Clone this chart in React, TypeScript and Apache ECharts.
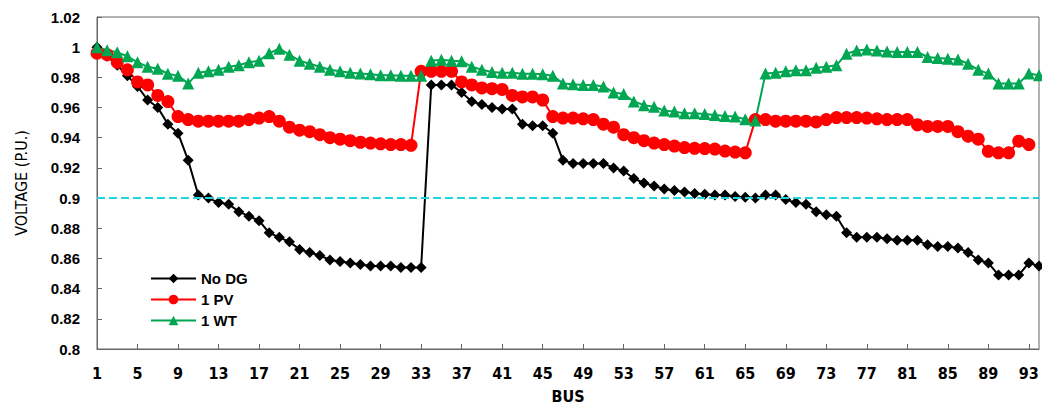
import React, { useEffect, useRef } from "react";
import * as echarts from "echarts";

const buses: string[] = Array.from({ length: 94 }, (_, i) => String(i + 1));

const noDG: number[] = [
  1.0, 0.994, 0.988, 0.981, 0.974, 0.965, 0.96, 0.949, 0.943, 0.925,
  0.902, 0.9, 0.897, 0.896, 0.891, 0.888, 0.885, 0.877, 0.874, 0.871,
  0.866, 0.864, 0.862, 0.859, 0.858, 0.857, 0.856, 0.855, 0.855, 0.855,
  0.854, 0.854, 0.854, 0.975, 0.975, 0.975, 0.97, 0.964, 0.962, 0.96,
  0.959, 0.959, 0.949, 0.948, 0.948, 0.943, 0.925, 0.923, 0.923, 0.923,
  0.923, 0.92, 0.918, 0.913, 0.91, 0.908, 0.906, 0.905, 0.904, 0.903,
  0.9025, 0.902, 0.902, 0.901, 0.9005, 0.9, 0.902, 0.902, 0.899, 0.897,
  0.896, 0.891, 0.889, 0.888, 0.877, 0.874, 0.874, 0.874, 0.873, 0.872,
  0.872, 0.872, 0.869, 0.868, 0.868, 0.867, 0.864, 0.859, 0.857, 0.849,
  0.849, 0.849, 0.857, 0.855,
];

const onePV: (number | null)[] = [
  0.996, 0.995, 0.99, 0.985, 0.977, 0.975, 0.968, 0.964, 0.954, 0.952,
  0.951, 0.951, 0.951, 0.951, 0.951, 0.952, 0.953, 0.954, 0.951, 0.947,
  0.945, 0.944, 0.942, 0.94, 0.939, 0.938, 0.937, 0.9365, 0.936, 0.9355,
  0.9355, 0.935, 0.984, 0.984, 0.984, 0.984, 0.977, 0.975, 0.973, 0.9725,
  0.972, 0.968, 0.967, 0.967, 0.965, 0.954, 0.953, 0.953, 0.9525, 0.952,
  0.949, 0.947, 0.942, 0.94, 0.938, 0.9365, 0.9355, 0.9345, 0.9335, 0.933,
  0.9328, 0.9325, 0.9312, 0.9305, 0.93, 0.952, 0.952, 0.951, 0.951, 0.951,
  0.951, 0.9505, 0.952, 0.9534, 0.9534, 0.9534, 0.953, 0.9525, 0.952, 0.952,
  0.952, 0.9486, 0.9475, 0.9475, 0.9475, 0.944, 0.941, 0.939, 0.931, 0.93,
  0.93, 0.9377, 0.9355, null,
];

const oneWT: number[] = [
  1.0, 0.998, 0.9966, 0.994, 0.99, 0.987, 0.9857, 0.9824, 0.981, 0.976,
  0.983, 0.984, 0.985, 0.987, 0.988, 0.99, 0.991, 0.996, 0.999, 0.995,
  0.991, 0.989, 0.987, 0.985, 0.984, 0.983, 0.9825, 0.982, 0.9814, 0.9814,
  0.981, 0.981, 0.981, 0.991, 0.9916, 0.991, 0.9907, 0.987, 0.985, 0.9835,
  0.983, 0.983, 0.9824, 0.9824, 0.982, 0.981, 0.976, 0.9754, 0.975, 0.975,
  0.974, 0.97, 0.969, 0.964, 0.9616, 0.9605, 0.958, 0.9573, 0.9562, 0.9562,
  0.9557, 0.955, 0.9544, 0.954, 0.9522, 0.9514, 0.9825, 0.983, 0.984, 0.9847,
  0.9847, 0.9863, 0.987, 0.988, 0.9957, 0.9978, 0.9985, 0.9978, 0.9972, 0.9968,
  0.9968, 0.9968, 0.9935, 0.9928, 0.9924, 0.9919, 0.989, 0.985, 0.9825, 0.976,
  0.976, 0.976, 0.9825, 0.9814,
];

const limitVoltage = 0.9;

const narrow = "'Liberation Sans Narrow', 'DejaVu Sans Condensed', 'Arial Narrow', sans-serif";
const sans = "'Liberation Sans', Arial, sans-serif";

export default function App() {
  const ref = useRef<HTMLDivElement>(null);
  useEffect(() => {
    if (!ref.current) return;
    const chart = echarts.init(ref.current, undefined, { renderer: "svg" });
    chart.setOption({
      animation: false,
      backgroundColor: "#ffffff",
      grid: {
        left: 97,
        right: 3,
        top: 17,
        bottom: 56,
        show: true,
        borderColor: "#666666",
        borderWidth: 1,
      },
      legend: {
        orient: "vertical",
        left: 145,
        top: 266,
        itemWidth: 45,
        itemHeight: 12,
        itemGap: 6,
        textStyle: { fontFamily: sans, fontWeight: "bold", fontSize: 15, color: "#000" },
        data: ["No DG", "1 PV", "1 WT"],
      },
      xAxis: {
        type: "category",
        data: buses,
        boundaryGap: false,
        name: "BUS",
        nameLocation: "middle",
        nameGap: 39,
        nameTextStyle: { fontFamily: narrow, fontWeight: "bold", fontSize: 16, color: "#000" },
        axisLine: { lineStyle: { color: "#666666", width: 1 } },
        axisTick: { inside: true, interval: 3, length: 5, lineStyle: { color: "#666666" } },
        axisLabel: {
          interval: 3,
          margin: 16,
          fontFamily: narrow,
          fontWeight: "bold",
          fontSize: 16,
          color: "#000",
        },
        splitLine: { show: false },
      },
      yAxis: {
        type: "value",
        min: 0.8,
        max: 1.02,
        interval: 0.02,
        name: "VOLTAGE (P.U.)",
        nameLocation: "middle",
        nameGap: 68,
        nameTextStyle: { fontFamily: narrow, fontSize: 16, color: "#000" },
        axisLine: { show: true, lineStyle: { color: "#666666", width: 1 } },
        axisTick: { show: true, inside: true, length: 5, lineStyle: { color: "#666666" } },
        axisLabel: {
          margin: 17,
          fontFamily: sans,
          fontWeight: "bold",
          fontSize: 15,
          color: "#000",
          formatter: (v: number) => String(parseFloat(v.toFixed(2))),
        },
        splitLine: { show: false },
      },
      series: [
        {
          name: "No DG",
          type: "line",
          data: noDG,
          symbol: "diamond",
          symbolSize: 11,
          showAllSymbol: true,
          color: "#000000",
          lineStyle: { color: "#000000", width: 2 },
          itemStyle: { color: "#000000" },
          markLine: {
            silent: true,
            symbol: "none",
            label: { show: false },
            lineStyle: { color: "#1fd3e3", type: [8, 4], width: 2 },
            data: [{ yAxis: limitVoltage }],
          },
        },
        {
          name: "1 PV",
          type: "line",
          data: onePV,
          symbol: "circle",
          symbolSize: 13,
          showAllSymbol: true,
          color: "#ff0000",
          lineStyle: { color: "#ff0000", width: 2 },
          itemStyle: { color: "#ff0000" },
        },
        {
          name: "1 WT",
          type: "line",
          data: oneWT,
          symbol: "triangle",
          symbolSize: 12,
          showAllSymbol: true,
          color: "#00a651",
          lineStyle: { color: "#00a651", width: 2 },
          itemStyle: { color: "#00a651" },
        },
      ],
    });
    return () => chart.dispose();
  }, []);
  return (
    <div
      ref={ref}
      style={{ position: "fixed", left: 0, top: 0, width: 1042, height: 409, background: "#fff" }}
    />
  );
}
